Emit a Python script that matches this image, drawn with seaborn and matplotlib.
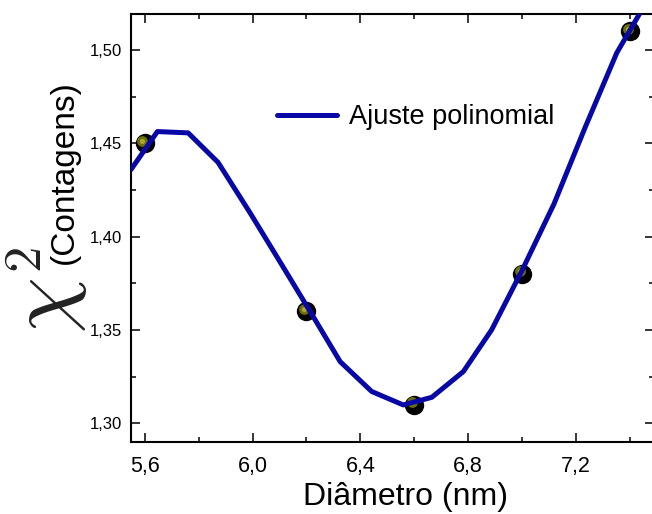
import matplotlib
matplotlib.use("Agg")
import matplotlib.pyplot as plt
import matplotlib.ticker as mticker
from matplotlib.transforms import offset_copy
import seaborn as sns

# --- measured chi^2 values ---
diam_nm = [5.6, 6.2, 6.6, 7.0, 7.4]
chi2 = [1.450, 1.360, 1.310, 1.380, 1.510]

# --- polynomial fit curve, vertices ---
fit_x = [5.549, 5.647, 5.761, 5.872, 5.991, 6.106, 6.221, 6.325, 6.442,
         6.559, 6.665, 6.782, 6.887, 7.000, 7.118, 7.235, 7.351, 7.466]
fit_y = [1.4359, 1.4563, 1.4556, 1.4398, 1.4127, 1.3855, 1.3581, 1.3330, 1.3170,
         1.3098, 1.3139, 1.3277, 1.3501, 1.3820, 1.4175, 1.4590, 1.4985, 1.5270]

x_ticks = [5.6, 6.0, 6.4, 6.8, 7.2]
x_tick_labels = ["5,6", "6,0", "6,4", "6,8", "7,2"]
y_ticks = [1.30, 1.35, 1.40, 1.45, 1.50]
y_tick_labels = ["1,30", "1,35", "1,40", "1,45", "1,50"]

W, H = 652, 514

sns.set_theme(style="ticks")
plt.rcParams["font.family"] = ["Liberation Sans", "DejaVu Sans"]
plt.rcParams["mathtext.fontset"] = "cm"
plt.rcParams["text.color"] = "black"

fig = plt.figure(figsize=(W / 100, H / 100), dpi=100)
fig.patch.set_facecolor("white")
# axes box in pixels: left 131, right 654, top 14, bottom 442
ax = fig.add_axes([131.3 / W, 1 - 441.7 / H, (654 - 131.3) / W, (441.7 - 14) / H])
ax.set_facecolor("white")

sns.scatterplot(x=diam_nm, y=chi2, ax=ax, s=195, color="black",
                edgecolor="black", linewidth=0, zorder=3)
sns.scatterplot(x=diam_nm, y=chi2, ax=ax, s=60, color="#6e6e08",
                linewidth=0, zorder=4)
sns.scatterplot(x=diam_nm, y=chi2, ax=ax, s=14, color="#a8a830",
                linewidth=0, zorder=4)
# shift the highlight up-left to get the sphere look
shift = offset_copy(ax.transData, fig=fig, x=-2.5, y=2.5, units="dots")
for coll in ax.collections[1:]:
    coll.set_offset_transform(shift)

sns.lineplot(x=fit_x, y=fit_y, ax=ax, sort=False, color="#0808A6", lw=3.6,
             label="Ajuste polinomial", zorder=5)

ax.set_xlim(5.5503, 7.489)
ax.set_ylim(1.2901, 1.5193)

ax.set_xticks(x_ticks)
ax.set_xticklabels(x_tick_labels, fontsize=15.5)
ax.set_yticks(y_ticks)
ax.set_yticklabels(y_tick_labels, fontsize=12)
ax.xaxis.set_minor_locator(mticker.MultipleLocator(0.2))
ax.yaxis.set_minor_locator(mticker.MultipleLocator(0.025))
ax.tick_params(which="both", direction="in", top=True, right=True,
               width=1.1, color="black", labelcolor="black")
ax.tick_params(which="major", length=6.5)
ax.tick_params(which="minor", length=3.6)
ax.tick_params(axis="x", which="major", pad=10)
ax.tick_params(axis="y", which="major", pad=7)
for sp in ax.spines.values():
    sp.set_linewidth(1.5)
    sp.set_color("black")
ax.set_xlabel("")
ax.set_ylabel("")

ax.legend(loc="center left", bbox_to_anchor=(277 / W, 1 - 117 / H),
          bbox_transform=fig.transFigure, frameon=False, fontsize=19.5,
          handlelength=2.2, handletextpad=0.45, borderpad=0, borderaxespad=0,
          labelcolor="black")

fig.text(405.6 / W, 1 - 505 / H, "Diâmetro (nm)", ha="center", va="baseline",
         fontsize=23, color="black")

# y label: big chi with superscript 2, then (Contagens)
fig.text(47 / W, 1 - 306 / H, r"$\chi$", rotation=90, ha="center", va="center",
         fontsize=64, color="#222222")
fig.text(27 / W, 1 - 260 / H, r"$2$", rotation=90, ha="center", va="center",
         fontsize=38, color="#222222")
fig.text(64 / W, 1 - 172 / H, "(Contagens)", rotation=90, ha="center", va="center",
         fontsize=24, color="black")

fig.savefig("out.png", dpi=100, facecolor="white")
plt.close(fig)
